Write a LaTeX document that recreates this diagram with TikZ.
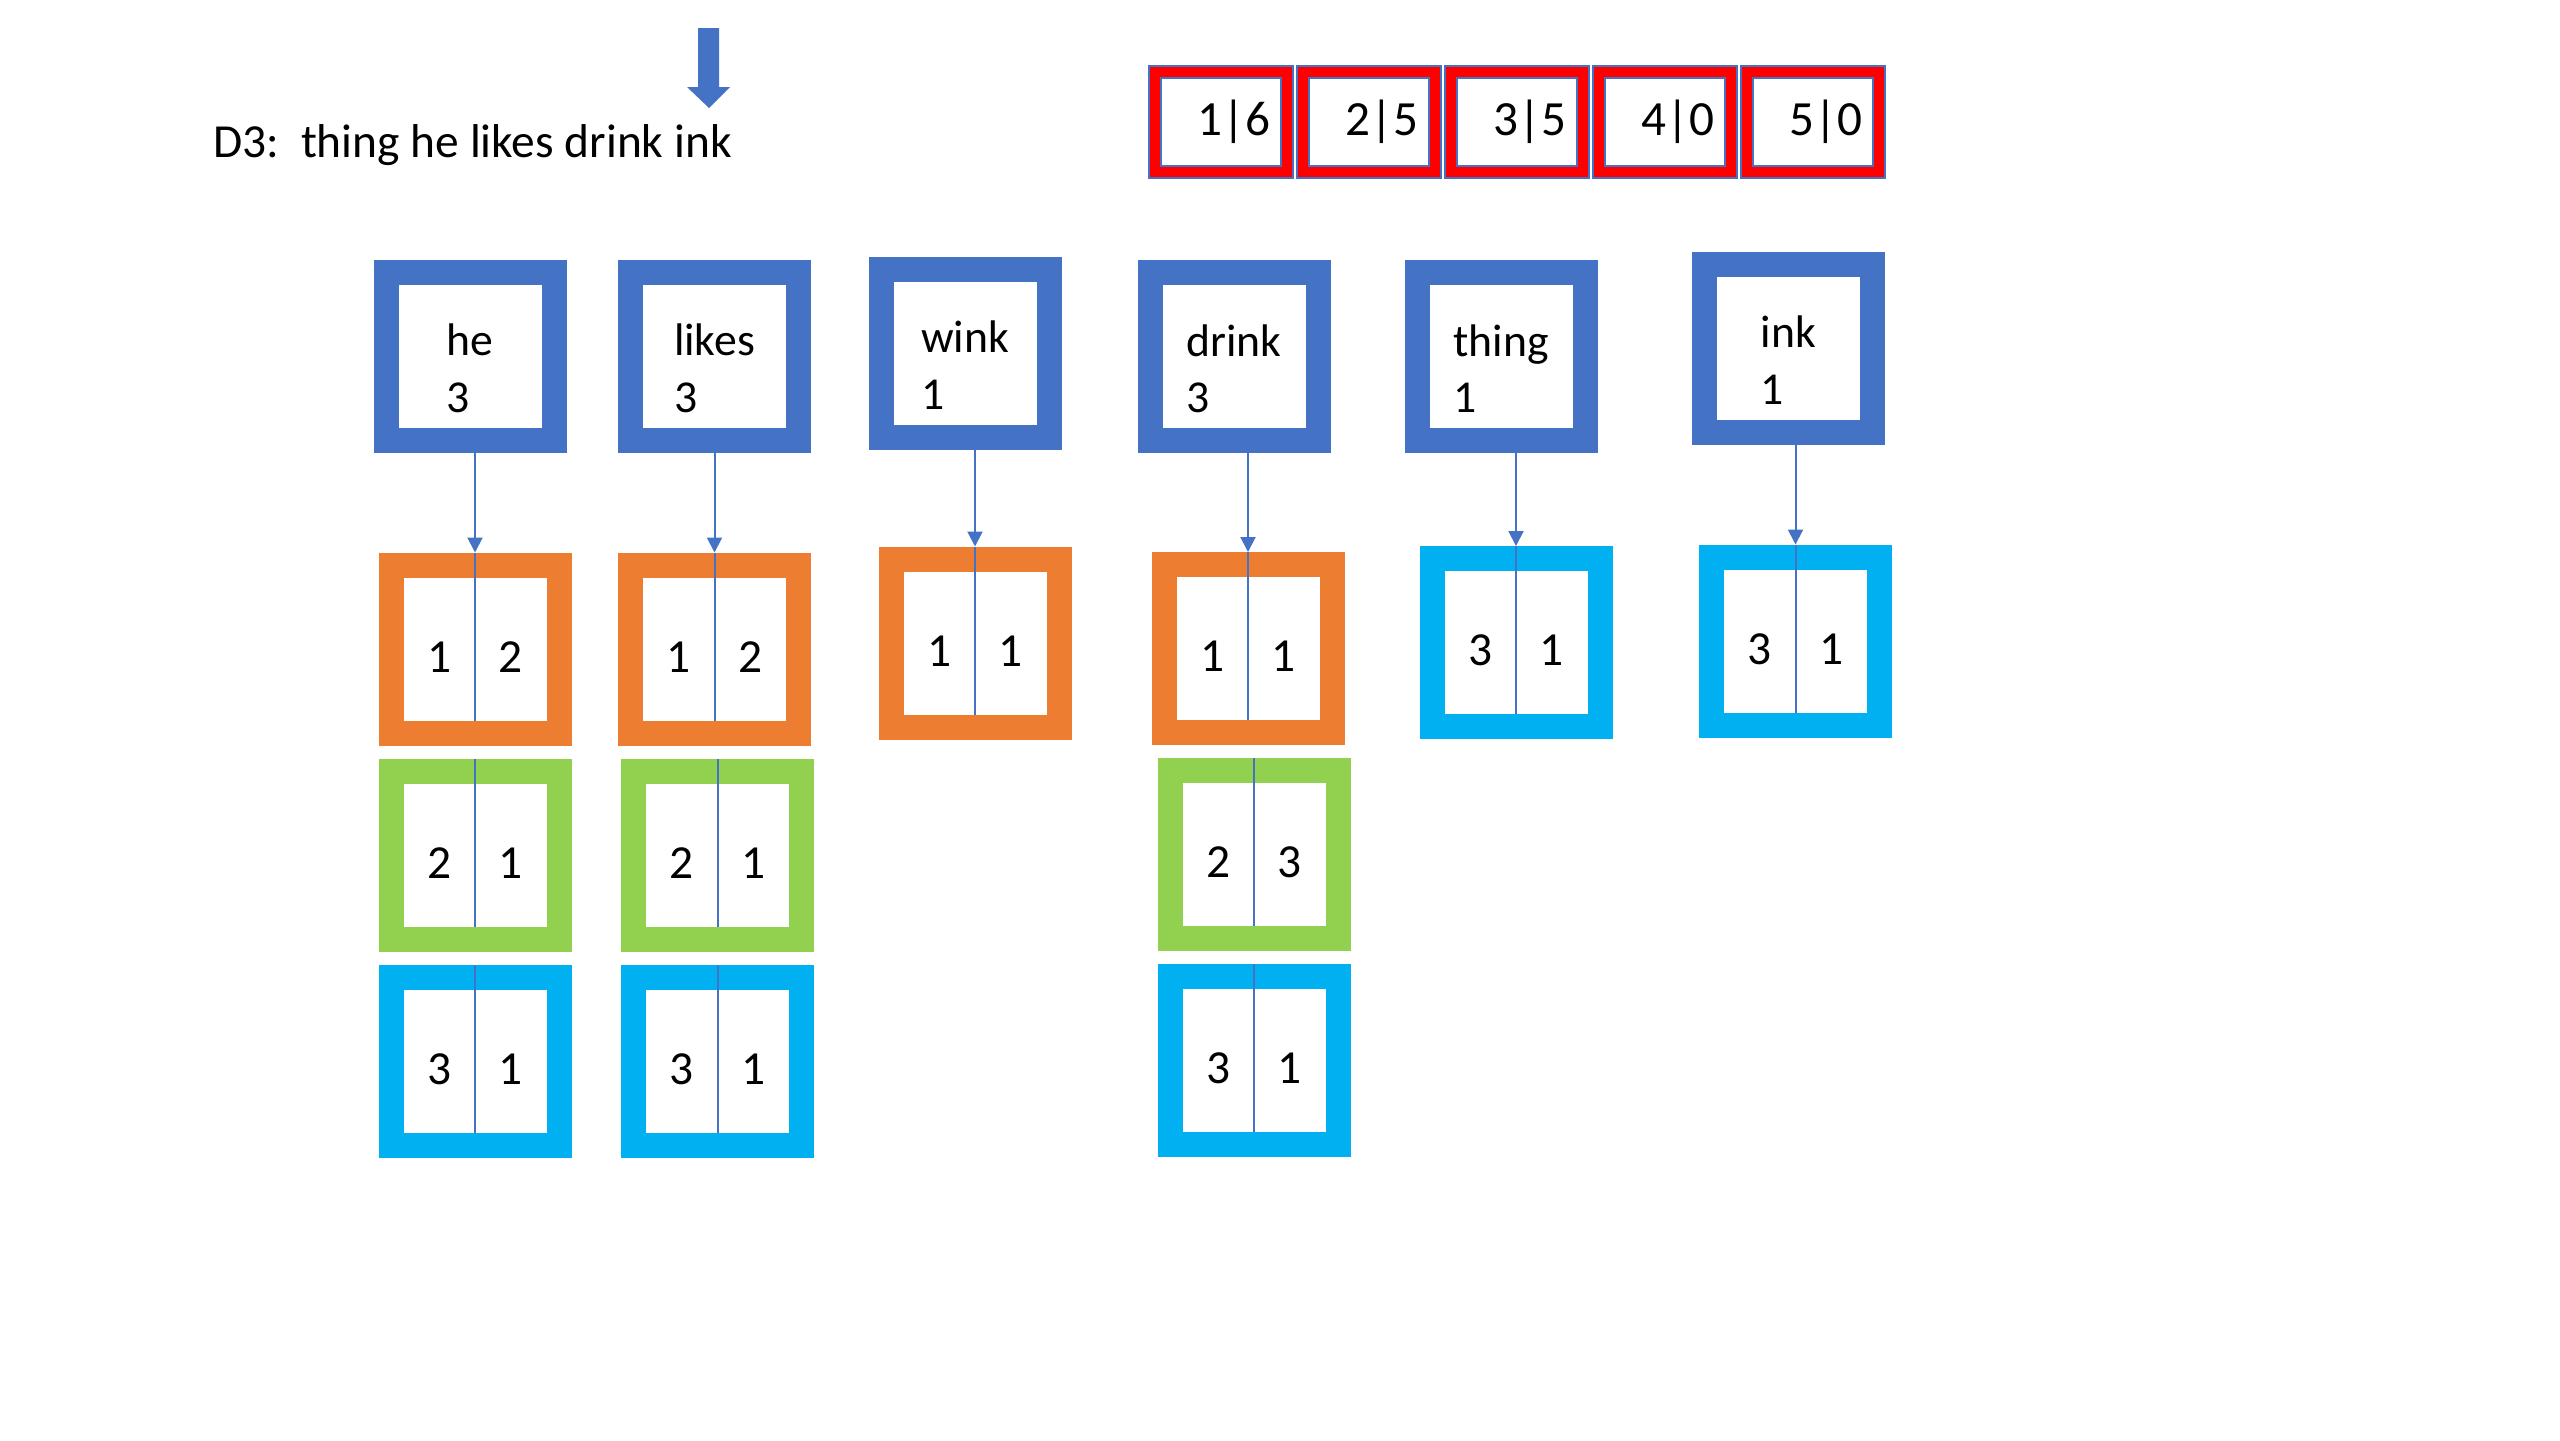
\documentclass[tikz,border=0pt]{standalone}
\usepackage{fontspec}
\setmainfont{Carlito}
\usetikzlibrary{arrows.meta,positioning}
\definecolor{wordblue}{RGB}{68,114,196}
\definecolor{postorange}{RGB}{237,125,49}
\definecolor{postgreen}{RGB}{146,208,80}
\definecolor{postcyan}{RGB}{0,176,240}
\definecolor{cntred}{RGB}{255,0,0}
\newcommand{\pair}[2]{\makebox[0.715cm]{#1}\makebox[0.715cm]{#2}}

\begin{document}
\begin{tikzpicture}[
    node distance=0.13cm,
    word/.style={rectangle, draw=wordblue, line width=0.25cm, fill=white, minimum width=1.68cm, minimum height=1.68cm, inner sep=0pt, align=left, text height=1.12cm, text depth=0pt, font=\fontsize{13}{16}\selectfont},
    posting/.style={rectangle, draw=#1, line width=0.25cm, fill=white, minimum width=1.68cm, minimum height=1.68cm, inner sep=0pt, text height=0.46cm, text depth=0pt, font=\fontsize{13.5}{16}\selectfont},
    cnt/.style={rectangle, draw=wordblue, line width=0.02cm, double=cntred, double distance=0.10cm, fill=white, minimum width=1.32cm, minimum height=1.0cm, inner sep=0pt, outer sep=0.07cm, font=\fontsize{14}{16}\selectfont},
    link/.style={draw=wordblue, line width=0.02cm, -{Triangle[width=0.15cm,length=0.15cm]}},
    divider/.style={draw=wordblue, line width=0.02cm}
]
    \path[use as bounding box, fill=white] (0,0) rectangle (25.6,-14.4);

    % document line and marker
    \node[anchor=base west, inner sep=0pt, font=\fontsize{13.5}{16}\selectfont] (doc) at (2.13,-1.57) {D3:\ \ thing he likes drink ink};
    \fill[wordblue] (6.98,-0.28) -- (7.19,-0.28) -- (7.19,-0.87) -- (7.30,-0.87) -- (7.09,-1.08) -- (6.87,-0.87) -- (6.98,-0.87) -- cycle;

    % counters
    \node[cnt] (cnt1) at (12.21,-1.22) {\hspace*{0.26cm}1|6};
    \node[cnt, right=0.02cm of cnt1] (cnt2) {\hspace*{0.26cm}2|5};
    \node[cnt, right=0.02cm of cnt2] (cnt3) {\hspace*{0.26cm}3|5};
    \node[cnt, right=0.02cm of cnt3] (cnt4) {\hspace*{0.26cm}4|0};
    \node[cnt, right=0.02cm of cnt4] (cnt5) {\hspace*{0.26cm}5|0};

    % dictionary
    \node[word] (he) at (4.70,-3.56) {he\\3};
    \node[word] (likes) at (7.145,-3.56) {likes\\3};
    \node[word] (wink) at (9.65,-3.53) {wink\\1};
    \node[word] (drink) at (12.34,-3.565) {drink\\3};
    \node[word] (thing) at (15.01,-3.565) {thing\\1};
    \node[word] (ink) at (17.885,-3.48) {ink\\1};

    % postings
    \node[posting=postorange, below=1cm of he, xshift=0.05cm] (heo) {\pair{1}{2}};
    \node[posting=postgreen, below=of heo] (heg) {\pair{2}{1}};
    \node[posting=postcyan, below=of heg] (hec) {\pair{3}{1}};

    \node[posting=postorange, below=1cm of likes] (likeso) {\pair{1}{2}};
    \node[posting=postgreen, below=of likeso, xshift=0.03cm] (likesg) {\pair{2}{1}};
    \node[posting=postcyan, below=of likesg] (likesc) {\pair{3}{1}};

    \node[posting=postorange, below=0.97cm of wink, xshift=0.1cm] (winko) {\pair{1}{1}};

    \node[posting=postorange, below=0.99cm of drink, xshift=0.14cm] (drinko) {\pair{1}{1}};
    \node[posting=postgreen, below=of drinko, xshift=0.06cm] (drinkg) {\pair{2}{3}};
    \node[posting=postcyan, below=of drinkg] (drinkc) {\pair{3}{1}};

    \node[posting=postcyan, below=0.93cm of thing, xshift=0.15cm] (thingc) {\pair{3}{1}};
    \node[posting=postcyan, below=1cm of ink, xshift=0.07cm] (inkc) {\pair{3}{1}};

    \foreach \p in {heo,heg,hec,likeso,likesg,likesc,winko,drinko,drinkg,drinkc,thingc,inkc}
        \draw[divider] (\p.north) -- ([yshift=0.25cm]\p.south);

    \foreach \w/\p in {he/heo,likes/likeso,wink/winko,drink/drinko,thing/thingc,ink/inkc}
        \draw[link] (\w.south -| \p.north) -- (\p.north);
\end{tikzpicture}
\end{document}
